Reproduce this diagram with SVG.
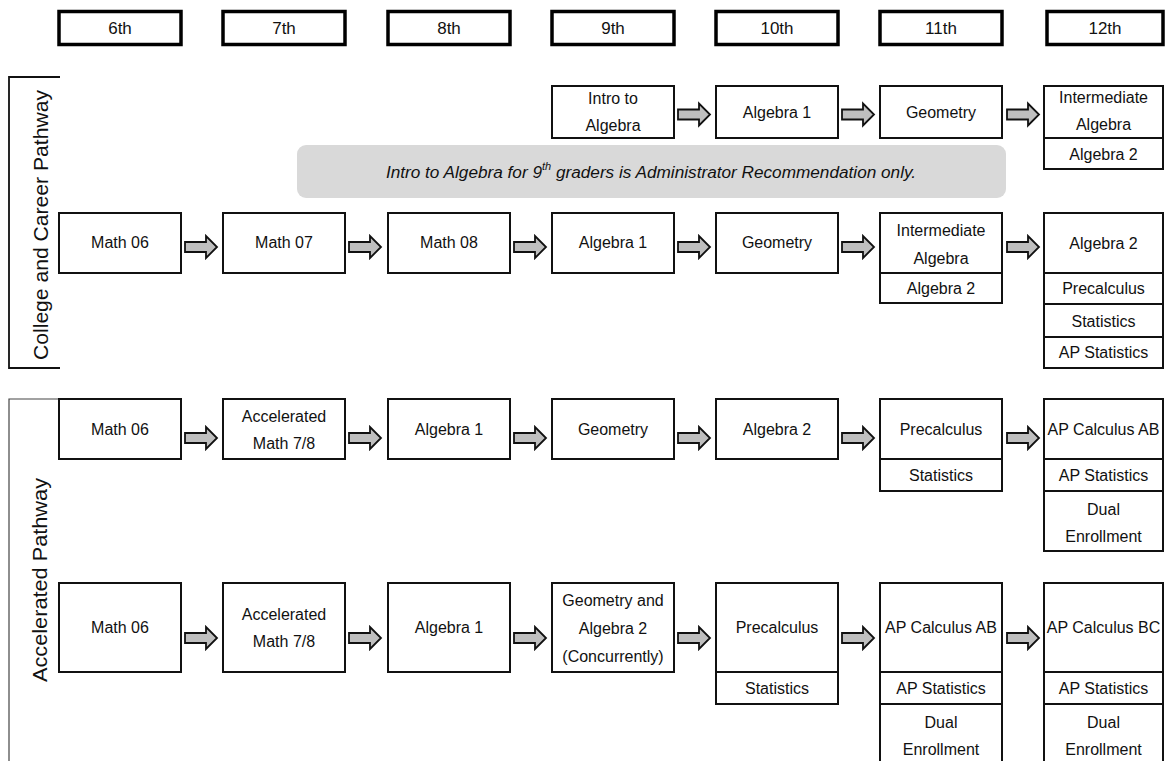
<svg xmlns="http://www.w3.org/2000/svg" width="1165" height="761" viewBox="0 0 1165 761">
<style>
text{font-family:"Liberation Sans",Arial,sans-serif;font-size:16px;fill:#111;text-anchor:middle;dominant-baseline:central}
.hdt{font-size:17px}
.hd{fill:#fff;stroke:#000;stroke-width:3.5}
.bx{fill:#fff;stroke:#111;stroke-width:2}
.arr{fill:#bfbfbf;stroke:#111;stroke-width:1.8;stroke-linejoin:miter}
.side{font-size:20px}
.note{font-style:italic;font-size:17.2px}
.br{fill:none;stroke:#111;stroke-width:1.8}
.br2{fill:none;stroke:#444;stroke-width:1.2}
</style>
<defs>
<path id="ar" class="arr" d="M0,-5 H21 V-11 L32,0 L21,11 V5 H0 Z"/>
</defs>
<rect width="1165" height="761" fill="#fff"/>

<g id="headers">
<g id="h6"><rect class="hd" x="59" y="11.5" width="122" height="33"/><text class="hdt" x="120" y="28">6th</text></g>
<g id="h7"><rect class="hd" x="223" y="11.5" width="122" height="33"/><text class="hdt" x="284" y="28">7th</text></g>
<g id="h8"><rect class="hd" x="388" y="11.5" width="122" height="33"/><text class="hdt" x="449" y="28">8th</text></g>
<g id="h9"><rect class="hd" x="552" y="11.5" width="122" height="33"/><text class="hdt" x="613" y="28">9th</text></g>
<g id="h10"><rect class="hd" x="716" y="11.5" width="122" height="33"/><text class="hdt" x="777" y="28">10th</text></g>
<g id="h11"><rect class="hd" x="880" y="11.5" width="122" height="33"/><text class="hdt" x="941" y="28">11th</text></g>
<g id="h12"><rect class="hd" x="1047" y="11.5" width="116" height="33"/><text class="hdt" x="1105" y="28">12th</text></g>
</g>

<g id="college-label">
<path class="br" d="M60,77 H9 V368 H60"/>
<text class="side" transform="translate(48,225) rotate(-90)" x="0" y="0" style="dominant-baseline:alphabetic" textLength="270" lengthAdjust="spacingAndGlyphs">College and Career Pathway</text>
</g>

<g id="accel-label">
<path class="br2" d="M60,399 H9 V761"/>
<text class="side" transform="translate(47,580) rotate(-90)" x="0" y="0" style="dominant-baseline:alphabetic" textLength="204" lengthAdjust="spacingAndGlyphs">Accelerated Pathway</text>
</g>

<g id="note">
<rect x="297" y="145" width="709" height="53" rx="9" fill="#d9d9d9"/>
<text class="note" x="651" y="172">Intro to Algebra for 9<tspan dy="-6" font-size="11">th</tspan><tspan dy="6"> graders is Administrator Recommendation only.</tspan></text>
</g>

<!-- Row 1 -->
<g id="r1-intro"><rect class="bx" x="552" y="86" width="122" height="52"/><text x="613" y="98">Intro to</text><text x="613" y="125">Algebra</text></g>
<g id="r1-alg1"><rect class="bx" x="716" y="86" width="122" height="52"/><text x="777" y="112">Algebra 1</text></g>
<g id="r1-geom"><rect class="bx" x="880" y="86" width="122" height="52"/><text x="941" y="112">Geometry</text></g>
<g id="r1-12"><rect class="bx" x="1044" y="86" width="119" height="52"/><rect class="bx" x="1044" y="138" width="119" height="31"/><text x="1103.5" y="97">Intermediate</text><text x="1103.5" y="124">Algebra</text><text x="1103.5" y="154">Algebra 2</text></g>

<!-- Row 2 -->
<g id="r2-m6"><rect class="bx" x="59" y="213" width="122" height="60"/><text x="120" y="242">Math 06</text></g>
<g id="r2-m7"><rect class="bx" x="223" y="213" width="122" height="60"/><text x="284" y="242">Math 07</text></g>
<g id="r2-m8"><rect class="bx" x="388" y="213" width="122" height="60"/><text x="449" y="242">Math 08</text></g>
<g id="r2-alg1"><rect class="bx" x="552" y="213" width="122" height="60"/><text x="613" y="242">Algebra 1</text></g>
<g id="r2-geom"><rect class="bx" x="716" y="213" width="122" height="60"/><text x="777" y="242">Geometry</text></g>
<g id="r2-11"><rect class="bx" x="880" y="213" width="122" height="60"/><rect class="bx" x="880" y="273" width="122" height="30"/><text x="941" y="230">Intermediate</text><text x="941" y="258">Algebra</text><text x="941" y="288">Algebra 2</text></g>
<g id="r2-12"><rect class="bx" x="1044" y="213" width="119" height="60"/><rect class="bx" x="1044" y="273" width="119" height="31"/><rect class="bx" x="1044" y="304" width="119" height="33"/><rect class="bx" x="1044" y="337" width="119" height="31"/><text x="1103.5" y="243">Algebra 2</text><text x="1103.5" y="288">Precalculus</text><text x="1103.5" y="321">Statistics</text><text x="1103.5" y="352">AP Statistics</text></g>

<!-- Row 3 -->
<g id="r3-m6"><rect class="bx" x="59" y="399" width="122" height="60"/><text x="120" y="429">Math 06</text></g>
<g id="r3-acc"><rect class="bx" x="223" y="399" width="122" height="60"/><text x="284" y="416">Accelerated</text><text x="284" y="443">Math 7/8</text></g>
<g id="r3-alg1"><rect class="bx" x="388" y="399" width="122" height="60"/><text x="449" y="429">Algebra 1</text></g>
<g id="r3-geom"><rect class="bx" x="552" y="399" width="122" height="60"/><text x="613" y="429">Geometry</text></g>
<g id="r3-alg2"><rect class="bx" x="716" y="399" width="122" height="60"/><text x="777" y="429">Algebra 2</text></g>
<g id="r3-11"><rect class="bx" x="880" y="399" width="122" height="60"/><rect class="bx" x="880" y="459" width="122" height="32"/><text x="941" y="429">Precalculus</text><text x="941" y="475">Statistics</text></g>
<g id="r3-12"><rect class="bx" x="1044" y="399" width="119" height="60"/><rect class="bx" x="1044" y="459" width="119" height="32"/><rect class="bx" x="1044" y="491" width="119" height="60"/><text x="1103.5" y="429">AP Calculus AB</text><text x="1103.5" y="475">AP Statistics</text><text x="1103.5" y="509">Dual</text><text x="1103.5" y="536">Enrollment</text></g>

<!-- Row 4 -->
<g id="r4-m6"><rect class="bx" x="59" y="583" width="122" height="89"/><text x="120" y="627">Math 06</text></g>
<g id="r4-acc"><rect class="bx" x="223" y="583" width="122" height="89"/><text x="284" y="614">Accelerated</text><text x="284" y="641">Math 7/8</text></g>
<g id="r4-alg1"><rect class="bx" x="388" y="583" width="122" height="89"/><text x="449" y="627">Algebra 1</text></g>
<g id="r4-geoalg"><rect class="bx" x="552" y="583" width="122" height="89"/><text x="613" y="600">Geometry and</text><text x="613" y="628">Algebra 2</text><text x="613" y="656">(Concurrently)</text></g>
<g id="r4-10"><rect class="bx" x="716" y="583" width="122" height="89"/><rect class="bx" x="716" y="672" width="122" height="32"/><text x="777" y="627">Precalculus</text><text x="777" y="688">Statistics</text></g>
<g id="r4-11"><rect class="bx" x="880" y="583" width="122" height="89"/><rect class="bx" x="880" y="672" width="122" height="32"/><rect class="bx" x="880" y="704" width="122" height="62"/><text x="941" y="627">AP Calculus AB</text><text x="941" y="688">AP Statistics</text><text x="941" y="722">Dual</text><text x="941" y="749">Enrollment</text></g>
<g id="r4-12"><rect class="bx" x="1044" y="583" width="119" height="89"/><rect class="bx" x="1044" y="672" width="119" height="32"/><rect class="bx" x="1044" y="704" width="119" height="62"/><text x="1103.5" y="627">AP Calculus BC</text><text x="1103.5" y="688">AP Statistics</text><text x="1103.5" y="722">Dual</text><text x="1103.5" y="749">Enrollment</text></g>

<g id="connectors">
<use href="#ar" x="678" y="114.5"/>
<use href="#ar" x="842" y="114.5"/>
<use href="#ar" x="1007" y="114.5"/>

<use href="#ar" x="185" y="247"/>
<use href="#ar" x="349" y="247"/>
<use href="#ar" x="514" y="247"/>
<use href="#ar" x="678" y="247"/>
<use href="#ar" x="842" y="247"/>
<use href="#ar" x="1007" y="247"/>

<use href="#ar" x="185" y="438"/>
<use href="#ar" x="349" y="438"/>
<use href="#ar" x="514" y="438"/>
<use href="#ar" x="678" y="438"/>
<use href="#ar" x="842" y="438"/>
<use href="#ar" x="1007" y="438"/>

<use href="#ar" x="185" y="638"/>
<use href="#ar" x="349" y="638"/>
<use href="#ar" x="514" y="638"/>
<use href="#ar" x="678" y="638"/>
<use href="#ar" x="842" y="638"/>
<use href="#ar" x="1007" y="638"/>
</g>
</svg>
